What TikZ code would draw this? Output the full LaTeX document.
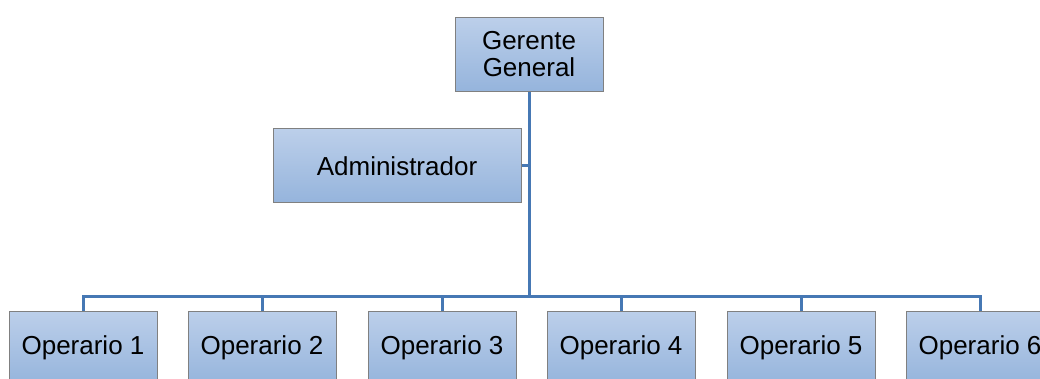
\documentclass[tikz,border=0pt]{standalone}
\usepackage{fontspec}
\setmainfont{Liberation Sans}
\usetikzlibrary{positioning}
\definecolor{boxtop}{RGB}{188,207,234}
\definecolor{boxbot}{RGB}{149,180,220}
\definecolor{boxline}{RGB}{128,128,128}
\definecolor{linkblue}{RGB}{70,120,180}

\begin{document}
\begin{tikzpicture}[x=1pt, y=-1pt,
    post/.style={draw=boxline, line width=1pt, top color=boxtop, bottom color=boxbot,
      minimum width=148pt, minimum height=74pt, align=center, inner sep=2pt,
      font=\fontsize{26}{27}\selectfont},
    link/.style={draw=linkblue, line width=3pt}]
  \useasboundingbox (0,0) rectangle (1040,379);
  % --- top ---
  \node[post] (ger) at (529,54.5) {Gerente\\General};
  \node[post, minimum width=248pt] (adm) at (397,166) {Administrador};
  % --- operarios ---
  \node[post] (op1) at (83,348)  {Operario 1};
  \node[post] (op2) at (262,348) {Operario 2};
  \node[post] (op3) at (442,348) {Operario 3};
  \node[post] (op4) at (621,348) {Operario 4};
  \node[post] (op5) at (801,348) {Operario 5};
  \node[post] (op6) at (980,348) {Operario 6};
  % --- links ---
  \coordinate (bus) at ([yshift=-204pt]ger.south);
  \draw[link] (ger.south) -- (bus);
  \draw[link] (adm.east) -- (adm.east -| ger.south);
  \draw[link] (op1.north) |- (bus) -| (op6.north);
  \draw[link] (op2.north) -- (op2.north |- bus);
  \draw[link] (op3.north) -- (op3.north |- bus);
  \draw[link] (op4.north) -- (op4.north |- bus);
  \draw[link] (op5.north) -- (op5.north |- bus);
\end{tikzpicture}
\end{document}
